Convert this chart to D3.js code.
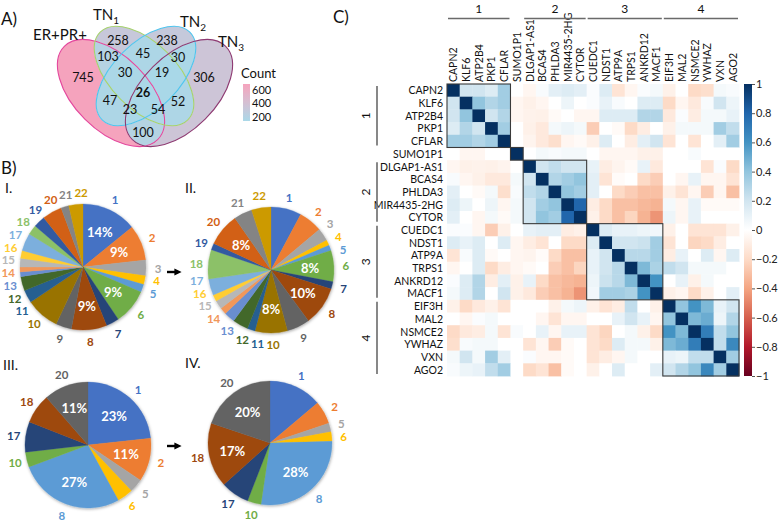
<!DOCTYPE html>
<html>
<head>
<meta charset="utf-8">
<script src="https://cdn.jsdelivr.net/npm/d3@7"></script>
<style>
  body { margin: 0; background: #fff; }
  svg { display: block; font-family: Lato, 'Open Sans', sans-serif; }
</style>
</head>
<body>
<svg id="fig" width="778" height="523"></svg>
<script>
// ---------- data ----------
// A) Venn: region membership (ER+PR+, TN1, TN2, TN3) and gene counts
const vennKeys   = ['1000', '0100', '0010', '0001', '1100', '1010', '1001', '0110', '0101', '0011', '1110', '1101', '1011', '0111', '1111']
const vennCounts = [745, 258, 238, 306, 103, 47, 100, 45, 52, 30, 30, 54, 23, 19, 26]
const legendTicks = [200, 400, 600]

// B) pies: category number per slice and share (%)
const pieCats1 = [1, 2, 3, 4, 5, 6, 7, 8, 9, 10, 11, 12, 13, 14, 15, 16, 17, 18, 19, 20, 21, 22]
const pieVals1 = [14, 9, 4, 2.2, 2, 9, 3.3, 9, 4, 8.5, 3.3, 3.6, 1.2, 1.2, 2.2, 2, 4.5, 2.5, 3, 5, 2, 3.6]
const pieShow1 = [1, 2, 6, 8]
const pieCats2 = [1, 2, 3, 4, 5, 6, 7, 8, 9, 10, 11, 12, 13, 14, 15, 16, 17, 18, 19, 20, 21, 22]
const pieVals2 = [7.8, 6.1, 3.3, 1.4, 1.4, 8, 1.9, 10, 5.9, 8.3, 2, 4, 2.8, 1.7, 2.2, 1.7, 4.2, 7.5, 1.7, 8.4, 4.7, 5]
const pieShow2 = [6, 8, 10, 20]
const pieCats3 = [1, 2, 5, 6, 8, 10, 17, 18, 20]
const pieVals3 = [23, 11, 3.5, 4, 27, 3.8, 7.7, 7.5, 11.3]
const pieShow3 = [1, 2, 8, 20]
const pieCats4 = [1, 2, 5, 6, 8, 10, 17, 18, 20]
const pieVals4 = [14, 6, 2.3, 2.5, 28, 3.6, 7.5, 17, 20]
const pieShow4 = [8, 18, 20]

// C) correlation matrix (lower triangle, row i holds columns 0..i-1)
const genes = ['CAPN2', 'KLF6', 'ATP2B4', 'PKP1', 'CFLAR', 'SUMO1P1', 'DLGAP1-AS1', 'BCAS4', 'PHLDA3',
  'MIR4435-2HG', 'CYTOR', 'CUEDC1', 'NDST1', 'ATP9A', 'TRPS1', 'ANKRD12', 'MACF1', 'EIF3H', 'MAL2',
  'NSMCE2', 'YWHAZ', 'VXN', 'AGO2']
const corrLower = [
  [],
  [0.2],
  [0.2, 0.4],
  [0.15, 0.3, 0.2],
  [0.35, 0.35, 0.3, 0.35],
  [0, -0.05, -0.05, 0, 0],
  [-0.05, -0.08, -0.07, -0.08, -0.06, 0],
  [0.03, -0.05, -0.08, -0.12, -0.12, 0.05, 0.2],
  [0.12, 0, -0.03, 0.05, -0.18, 0.03, 0.25, 0.3],
  [0.15, 0.08, 0, 0.08, -0.05, 0.05, 0.2, 0.35, 0.4],
  [0.12, 0, -0.05, 0.05, -0.03, 0.05, 0.2, 0.4, 0.35, 0.8],
  [0.02, 0.02, -0.05, -0.25, -0.08, 0, 0.1, 0.12, 0.12, -0.1, -0.08],
  [0.15, 0.1, 0.15, 0, 0.15, -0.05, -0.1, -0.15, 0, -0.2, -0.2, 0.15],
  [-0.15, 0.03, 0.15, -0.03, 0, -0.05, -0.06, -0.02, -0.2, -0.3, -0.3, 0.1, 0.2],
  [-0.05, 0, 0.15, -0.2, -0.1, -0.05, -0.03, 0, -0.25, -0.3, -0.22, 0.1, 0.2, 0.28],
  [0.02, 0.15, 0.3, -0.1, 0.12, -0.08, 0.1, -0.2, -0.3, -0.33, -0.35, 0.08, 0.22, 0.28, 0.45],
  [0.05, 0.15, 0.3, 0, 0.2, -0.08, -0.12, -0.25, -0.3, -0.35, -0.45, 0.06, 0.35, 0.35, 0.32, 0.6],
  [-0.08, -0.2, -0.12, -0.08, -0.15, 0, 0, 0, -0.08, 0.05, 0.08, -0.08, -0.15, -0.1, 0.25, 0, -0.08],
  [0, -0.05, 0.02, 0.05, 0, 0, 0, -0.05, -0.15, -0.05, -0.05, 0, 0, 0.1, 0.2, 0.1, -0.05, 0.4],
  [-0.2, -0.12, -0.1, 0.05, -0.15, 0.03, 0, 0.1, -0.05, 0.1, 0.1, -0.15, -0.22, 0, 0.05, -0.08, -0.2, 0.6, 0.45],
  [-0.18, 0.03, 0.05, 0.05, 0, 0, -0.15, -0.05, -0.25, -0.03, 0, -0.15, -0.2, 0.15, 0.05, 0.05, -0.08, 0.45, 0.5, 0.7],
  [0.05, 0.2, 0.05, 0.35, 0.12, 0, 0.02, -0.05, -0.05, -0.03, 0, -0.15, -0.1, -0.05, 0.05, 0, 0, 0.1, 0.08, 0.25, 0.25],
  [0.03, 0.08, 0.1, 0.25, 0.35, 0, -0.2, -0.15, -0.3, -0.03, 0, -0.08, 0, 0.15, 0, 0, 0.12, 0.2, 0.3, 0.4, 0.65, 0.35]
]
const clusterBoxes = [[0, 4], [5, 5], [6, 10], [11, 16], [17, 22]]
const groupNames = ['1', '2', '3', '4']
const groupRanges = [[0, 4], [6, 10], [11, 16], [17, 22]]
const colorbarTicks = [1, 0.8, 0.6, 0.4, 0.2, 0, -0.2, -0.4, -0.6, -0.8, -1]

// ---------- styles / layout ----------
const officeColors = ['#4472C4', '#ED7D31', '#A5A5A5', '#FFC000', '#5B9BD5', '#70AD47', '#264478', '#9E480E',
  '#636363', '#997300', '#255E91', '#43682B', '#698ED0', '#F1975A', '#B7B7B7', '#FFCD33', '#7CAFDD', '#8CC168',
  '#335AA1', '#D26012', '#848484', '#CC9A00']
const rdbu = ['#67001F', '#B2182B', '#D6604D', '#F4A582', '#FDDBC7', '#FFFFFF', '#D1E5F0', '#92C5DE', '#4393C3', '#2166AC', '#053061']

const svg = d3.select('#fig')
const defs = svg.append('defs')

function panelLabel(t, x, y) {
  svg.append('text').attr('x', x).attr('y', y).attr('font-size', 17).attr('fill', '#111').text(t)
}
panelLabel('A)', 1, 25)
panelLabel('B)', 1, 174)
panelLabel('C)', 333, 23)

// ================= A) Venn =================
const ellipses = [
  { cx: 111, cy: 93, rx: 66, ry: 37, rot: 45, stroke: '#e4479d' },
  { cx: 144, cy: 76, rx: 62, ry: 33, rot: 45, stroke: '#a6d26c' },
  { cx: 146, cy: 76, rx: 62, ry: 33, rot: -45, stroke: '#4ec5ee' },
  { cx: 179, cy: 93, rx: 66, ry: 37, rot: -45, stroke: '#8e3a72' }
]
// where each region's count is written (same order as vennKeys)
const vennLabelPos = [[83, 77], [118, 40], [167, 40], [204, 77], [108, 56], [110, 100], [143, 132],
  [143, 53], [178, 101], [178, 57], [125, 72], [158, 109], [130, 109], [162, 72], [143, 92]]

const countColor = d3.scaleLinear()
  .domain([d3.min(vennCounts), d3.max(vennCounts)])
  .range(['#a9d8e8', '#f5a3bd'])
  .interpolate(d3.interpolateLab)

ellipses.forEach((e, i) => {
  defs.append('clipPath').attr('id', 'vc' + i)
    .append('ellipse').attr('rx', e.rx).attr('ry', e.ry)
    .attr('transform', `translate(${e.cx},${e.cy}) rotate(${e.rot})`)
})

const vennG = svg.append('g')
vennKeys.forEach((key, k) => {
  const m = defs.append('mask').attr('id', 'vm' + k).attr('maskUnits', 'userSpaceOnUse')
    .attr('x', 0).attr('y', 0).attr('width', 778).attr('height', 523)
  m.append('rect').attr('width', 778).attr('height', 523).attr('fill', '#fff')
  let g = vennG
  key.split('').forEach((b, i) => {
    const e = ellipses[i]
    if (b === '1') g = g.append('g').attr('clip-path', `url(#vc${i})`)
    else m.append('ellipse').attr('rx', e.rx + 0.3).attr('ry', e.ry + 0.3)
      .attr('transform', `translate(${e.cx},${e.cy}) rotate(${e.rot})`).attr('fill', '#000')
  })
  g.append('rect').attr('x', 30).attr('y', 10).attr('width', 240).attr('height', 160)
    .attr('fill', countColor(vennCounts[k])).attr('mask', `url(#vm${k})`)
})

vennG.selectAll('ellipse.edge').data(ellipses).join('ellipse').attr('class', 'edge')
  .attr('rx', d => d.rx).attr('ry', d => d.ry)
  .attr('transform', d => `translate(${d.cx},${d.cy}) rotate(${d.rot})`)
  .attr('fill', 'none').attr('stroke', d => d.stroke).attr('stroke-width', 1.1)

vennG.selectAll('text.count').data(vennKeys).join('text').attr('class', 'count')
  .attr('x', (d, k) => vennLabelPos[k][0]).attr('y', (d, k) => vennLabelPos[k][1])
  .attr('text-anchor', 'middle').attr('dominant-baseline', 'central')
  .attr('font-size', 12.5).attr('font-weight', d => d === '1111' ? 700 : 400).attr('fill', '#111')
  .text((d, k) => vennCounts[k])

function setLabel(x, y, main, sub) {
  const t = svg.append('text').attr('x', x).attr('y', y).attr('font-size', 15).attr('fill', '#111')
  t.append('tspan').text(main)
  if (sub) t.append('tspan').attr('dy', 4).attr('font-size', 10).text(sub)
}
setLabel(33, 40, 'ER+PR+')
setLabel(93, 20, 'TN', '1')
setLabel(180, 27, 'TN', '2')
setLabel(218, 47, 'TN', '3')

// count legend
const lg = defs.append('linearGradient').attr('id', 'countGrad').attr('x1', 0).attr('y1', 1).attr('x2', 0).attr('y2', 0)
d3.range(0, 1.0001, 0.1).forEach(t => {
  lg.append('stop').attr('offset', t)
    .attr('stop-color', countColor(countColor.domain()[0] + t * (countColor.domain()[1] - countColor.domain()[0])))
})
const legY = d3.scaleLinear().domain(countColor.domain()).range([128, 80])
svg.append('text').attr('x', 241).attr('y', 78).attr('font-size', 13).attr('fill', '#111').text('Count')
svg.append('rect').attr('x', 243).attr('y', 84).attr('width', 7).attr('height', 37).attr('fill', 'url(#countGrad)')
svg.selectAll('text.legtick').data(legendTicks).join('text').attr('class', 'legtick')
  .attr('x', 252).attr('y', d => legY(d)).attr('dominant-baseline', 'central')
  .attr('font-size', 11).attr('fill', '#111').text(d => d)

// ================= B) Pies =================
const shadow = defs.append('filter').attr('id', 'pieShadow').attr('x', '-20%').attr('y', '-20%').attr('width', '140%').attr('height', '140%')
shadow.append('feDropShadow').attr('dx', 0.5).attr('dy', 1).attr('stdDeviation', 1.6)
  .attr('flood-color', '#000').attr('flood-opacity', 0.35)

const pies = [
  { cats: pieCats1, vals: pieVals1, show: pieShow1, cx: 83, cy: 267, r: 63, name: 'I.', nx: 5, ny: 193 },
  { cats: pieCats2, vals: pieVals2, show: pieShow2, cx: 271, cy: 270, r: 63, name: 'II.', nx: 185, ny: 193 },
  { cats: pieCats3, vals: pieVals3, show: pieShow3, cx: 88, cy: 445, r: 63, name: 'III.', nx: 3, ny: 370 },
  { cats: pieCats4, vals: pieVals4, show: pieShow4, cx: 270, cy: 443, r: 62, name: 'IV.', nx: 185, ny: 368 }
]

// spread outside labels along the circle so they don't collide
function placeLabels(arcs, R) {
  const items = arcs.map(d => ({ d, a: (d.startAngle + d.endAngle) / 2, w: String(d.data.cat).length * 7 + 1 }))
  const pos = it => [Math.sin(it.a) * R, -Math.cos(it.a) * R]
  for (let iter = 0; iter < 800; iter++) {
    let moved = false
    for (let i = 0; i < items.length; i++) {
      const A = items[i], B = items[(i + 1) % items.length]
      const [ax, ay] = pos(A), [bx, by] = pos(B)
      if (Math.abs(ax - bx) < (A.w + B.w) / 2 && Math.abs(ay - by) < 12.5) {
        A.a -= 0.004; B.a += 0.004; moved = true
      }
    }
    if (!moved) break
  }
  return items.map(it => ({ d: it.d, x: pos(it)[0], y: pos(it)[1] }))
}

pies.forEach(p => {
  const data = p.cats.map((c, i) => ({ cat: c, val: p.vals[i], color: officeColors[i] }))
  const arcs = d3.pie().sort(null).value(d => d.val)(data)
  const arc = d3.arc().innerRadius(0).outerRadius(p.r)
  const inner = d3.arc().innerRadius(p.r * 0.62).outerRadius(p.r * 0.62)
  const g = svg.append('g').attr('transform', `translate(${p.cx},${p.cy})`)
  g.append('g').attr('filter', 'url(#pieShadow)')
    .selectAll('path').data(arcs).join('path')
    .attr('d', arc).attr('fill', d => d.data.color).attr('stroke', d => d.data.color).attr('stroke-width', 0.3)
  g.selectAll('text.pct').data(arcs.filter(d => p.show.includes(d.data.cat))).join('text').attr('class', 'pct')
    .attr('transform', d => `translate(${inner.centroid(d)})`)
    .attr('text-anchor', 'middle').attr('dominant-baseline', 'central')
    .attr('font-size', 13).attr('font-weight', 700).attr('fill', '#fff')
    .text(d => Math.round(d.data.val) + '%')
  g.selectAll('text.cat').data(placeLabels(arcs, p.r + 12)).join('text').attr('class', 'cat')
    .attr('x', d => d.x).attr('y', d => d.y)
    .attr('text-anchor', 'middle').attr('dominant-baseline', 'central')
    .attr('font-size', 11.5).attr('font-weight', 700).attr('fill', d => d.d.data.color)
    .text(d => d.d.data.cat)
  svg.append('text').attr('x', p.nx).attr('y', p.ny).attr('font-size', 14).attr('fill', '#111').text(p.name)
})

// arrows between pies
defs.append('marker').attr('id', 'arrowHead').attr('viewBox', '0 0 10 10').attr('refX', 5).attr('refY', 5)
  .attr('markerWidth', 3).attr('markerHeight', 3).attr('orient', 'auto')
  .append('path').attr('d', 'M0,0 L10,5 L0,10 z').attr('fill', '#000')
;[272, 446].forEach(y => {
  svg.append('line').attr('x1', 167).attr('x2', 178).attr('y1', y).attr('y2', y)
    .attr('stroke', '#000').attr('stroke-width', 2.4).attr('marker-end', 'url(#arrowHead)')
})

// ================= C) Heatmap =================
const corr = genes.map((_, i) => genes.map((_, j) => i === j ? 1 : (j < i ? corrLower[i][j] : corrLower[j][i])))
const hx = d3.scaleBand().domain(d3.range(genes.length)).range([447, 739])
const hy = d3.scaleBand().domain(d3.range(genes.length)).range([84, 376])
const cw = hx.bandwidth()
const corrColor = d3.scaleLinear().domain(d3.range(-1, 1.0001, 0.2)).range(rdbu).clamp(true)

const cells = []
corr.forEach((row, i) => row.forEach((v, j) => cells.push({ i, j, v })))
const hg = svg.append('g')
hg.selectAll('rect.cell').data(cells).join('rect').attr('class', 'cell')
  .attr('x', d => hx(d.j)).attr('y', d => hy(d.i))
  .attr('width', cw + 0.4).attr('height', cw + 0.4)
  .attr('fill', d => corrColor(d.v))

hg.selectAll('rect.box').data(clusterBoxes).join('rect').attr('class', 'box')
  .attr('x', d => hx(d[0])).attr('y', d => hy(d[0]))
  .attr('width', d => (d[1] - d[0] + 1) * cw).attr('height', d => (d[1] - d[0] + 1) * cw)
  .attr('fill', 'none').attr('stroke', '#3a3a3a').attr('stroke-width', 1.1)

// gene labels
hg.selectAll('text.row').data(genes).join('text').attr('class', 'row')
  .attr('x', 443).attr('y', (d, i) => hy(i) + cw / 2)
  .attr('text-anchor', 'end').attr('dominant-baseline', 'central')
  .attr('font-size', 10.5).attr('fill', '#111').text(d => d)
hg.selectAll('text.col').data(genes).join('text').attr('class', 'col')
  .attr('transform', (d, i) => `translate(${hx(i) + cw / 2},82) rotate(-90)`)
  .attr('text-anchor', 'start').attr('dominant-baseline', 'central')
  .attr('font-size', 10.5).attr('fill', '#111').text(d => d)

// group brackets
groupRanges.forEach((r, k) => {
  const x0 = hx(r[0]) + 1, x1 = hx(r[1]) + cw - 1
  svg.append('line').attr('x1', x0).attr('x2', x1).attr('y1', 18.5).attr('y2', 18.5)
    .attr('stroke', '#6a6a6a').attr('stroke-width', 1.6)
  svg.append('text').attr('x', (x0 + x1) / 2).attr('y', 13).attr('text-anchor', 'middle')
    .attr('font-size', 12).attr('fill', '#111').text(groupNames[k])
  const y0 = hy(r[0]) + 2, y1 = hy(r[1]) + cw - 2
  svg.append('line').attr('x1', 377).attr('x2', 377).attr('y1', y0).attr('y2', y1)
    .attr('stroke', '#6a6a6a').attr('stroke-width', 1.6)
  svg.append('text').attr('transform', `translate(365,${(y0 + y1) / 2}) rotate(-90)`)
    .attr('text-anchor', 'middle').attr('dominant-baseline', 'central')
    .attr('font-size', 12).attr('fill', '#111').text(groupNames[k])
})

// colour bar
const cg = defs.append('linearGradient').attr('id', 'corrGrad').attr('x1', 0).attr('y1', 0).attr('x2', 0).attr('y2', 1)
rdbu.slice().reverse().forEach((c, i) => cg.append('stop').attr('offset', i / (rdbu.length - 1)).attr('stop-color', c))
const cbY = d3.scaleLinear().domain([1, -1]).range([84, 376])
svg.append('rect').attr('x', 744).attr('y', 84).attr('width', 8).attr('height', 292).attr('fill', 'url(#corrGrad)')
const cbAxis = svg.append('g').attr('transform', 'translate(752,0)')
  .call(d3.axisRight(cbY).tickValues(colorbarTicks).tickSize(3).tickPadding(1).tickFormat(d3.format('~g')))
cbAxis.select('.domain').remove()
cbAxis.selectAll('line').attr('stroke', '#555')
cbAxis.selectAll('text').attr('font-size', 11).attr('font-family', 'Lato, sans-serif').attr('fill', '#222')
</script>
</body>
</html>
